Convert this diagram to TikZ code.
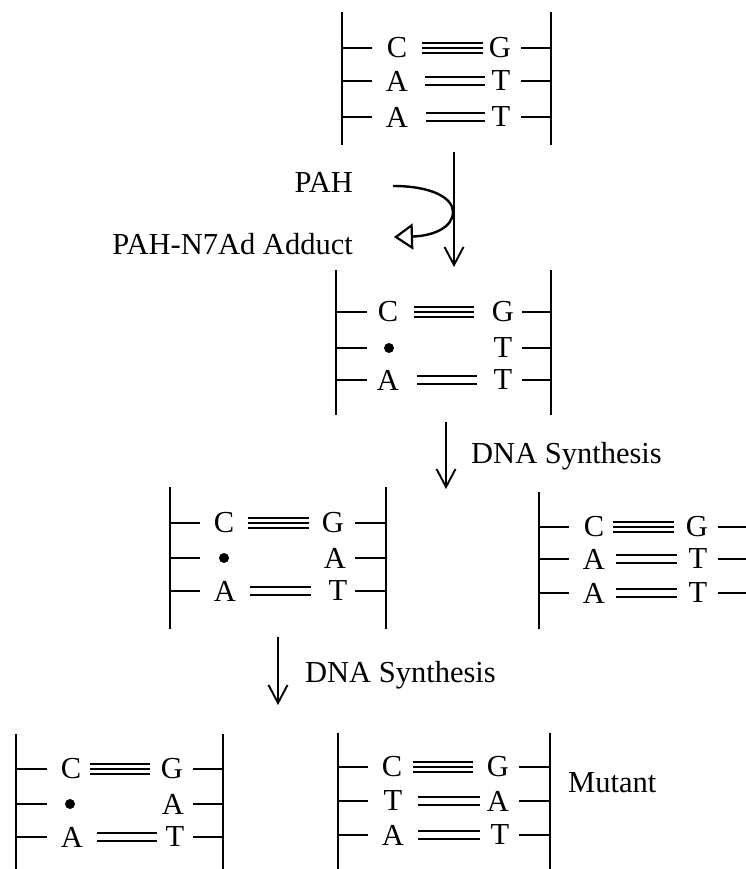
\documentclass[tikz,border=0pt]{standalone}
\usepackage{fontspec}
\setmainfont{Liberation Serif}
\usetikzlibrary{arrows.meta}
\newcommand\bkb[3]{\draw[bb] (#1,#2) -- (#1,#3);}
\newcommand\tkb[3]{\draw[tk] (#1,#3) -- (#2,#3);}
\newcommand\bthree[3]{\draw[bond] (#1,#3-5) -- (#2,#3-5) (#1,#3) -- (#2,#3) (#1,#3+5) -- (#2,#3+5);}
\newcommand\btwo[3]{\draw[bond] (#1,#3-4) -- (#2,#3-4) (#1,#3+4) -- (#2,#3+4);}
\begin{document}
\begin{tikzpicture}[x=1pt,y=-1pt,
  bb/.style={line width=2.2pt},
  tk/.style={line width=2pt},
  bond/.style={line width=1.9pt},
  base/.style={inner sep=0pt, font=\fontsize{30.5}{36}\selectfont},
  lbl/.style={inner sep=0pt, font=\fontsize{30.5}{36}\selectfont},
  flow/.style={line width=1.9pt, -{Straight Barb[length=18pt,width=19pt,line width=1.9pt]}},
  lesion/.style={fill, circle, inner sep=0pt, minimum size=10pt}
]
\useasboundingbox (0,0) rectangle (746,869);

% ---------- Block 1 ----------
\bkb{342}{12}{145} \bkb{551}{12}{145}
\tkb{342}{372}{48} \tkb{521}{551}{48}
\tkb{342}{372}{81} \tkb{521}{551}{81}
\tkb{342}{372}{117} \tkb{521}{551}{117}
\node[base] (b1c1) at (397,48) {C};  \node[base] (b1g1) at (500,48) {G};
\node[base] (b1a2) at (397,81) {A};  \node[base] (b1t2) at (501,81) {T};
\node[base] (b1a3) at (397,117) {A}; \node[base] (b1t3) at (501,117) {T};
\bthree{422}{483}{48}
\btwo{425}{485}{81}
\btwo{426}{485}{117}

% ---------- Block 2 ----------
\bkb{336}{270}{415} \bkb{551}{270}{415}
\tkb{336}{367}{312} \tkb{522}{551}{312}
\tkb{336}{367}{348} \tkb{522}{551}{348}
\tkb{336}{367}{380} \tkb{522}{551}{380}
\node[base] (b2c1) at (388,312) {C}; \node[base] (b2g1) at (503,312) {G};
\node[lesion] (b2d2) at (389,348) {}; \node[base] (b2t2) at (503,348) {T};
\node[base] (b2a3) at (388,380) {A}; \node[base] (b2t3) at (503,380) {T};
\bthree{414}{474}{312}
\btwo{417}{477}{380}

% ---------- Block 3 left ----------
\bkb{170}{487}{629} \bkb{386}{487}{629}
\tkb{170}{200}{523} \tkb{355}{386}{523}
\tkb{170}{200}{558} \tkb{355}{386}{558}
\tkb{170}{200}{591} \tkb{355}{386}{591}
\node[base] (b3c1) at (224,523) {C}; \node[base] (b3g1) at (333,523) {G};
\node[lesion] (b3d2) at (224,558) {}; \node[base] (b3a2) at (335,558) {A};
\node[base] (b3a3) at (225,591) {A}; \node[base] (b3t3) at (338,591) {T};
\bthree{248}{309}{523}
\btwo{250}{311}{591}

% ---------- Block 3 right ----------
\bkb{539}{492}{629}
\tkb{539}{569}{527} \tkb{718}{746}{527}
\tkb{539}{569}{559} \tkb{718}{746}{559}
\tkb{539}{569}{593} \tkb{718}{746}{593}
\node[base] (b4c1) at (594,527) {C}; \node[base] (b4g1) at (697,527) {G};
\node[base] (b4a2) at (594,559) {A}; \node[base] (b4t2) at (698,559) {T};
\node[base] (b4a3) at (594,593) {A}; \node[base] (b4t3) at (698,593) {T};
\bthree{613}{674}{527}
\btwo{616}{677}{559}
\btwo{616}{677}{593}

% ---------- Block 4 left ----------
\bkb{16}{734}{869} \bkb{223}{734}{869}
\tkb{16}{47}{769} \tkb{193}{223}{769}
\tkb{16}{47}{804} \tkb{193}{223}{804}
\tkb{16}{47}{837} \tkb{193}{223}{837}
\node[base] (b5c1) at (71,769) {C}; \node[base] (b5g1) at (172,769) {G};
\node[lesion] (b5d2) at (70,804) {}; \node[base] (b5a2) at (173,804) {A};
\node[base] (b5a3) at (72,837) {A}; \node[base] (b5t3) at (175,837) {T};
\bthree{90}{150}{769}
\btwo{97}{157}{837}

% ---------- Block 4 right ----------
\bkb{338}{733}{869} \bkb{550}{733}{869}
\tkb{338}{368}{767} \tkb{519}{550}{767}
\tkb{338}{368}{801} \tkb{519}{550}{801}
\tkb{338}{368}{835} \tkb{519}{550}{835}
\node[base] (b6c1) at (392,767) {C}; \node[base] (b6g1) at (498,767) {G};
\node[base] (b6t2) at (393,801) {T}; \node[base] (b6a2) at (498,801) {A};
\node[base] (b6a3) at (393,835) {A}; \node[base] (b6t3) at (500,835) {T};
\bthree{413}{473}{767}
\btwo{418}{480}{801}
\btwo{418}{480}{835}
\node[lbl, anchor=base west] (mut) at (568,792) {Mutant};

% ---------- Arrows and labels ----------
\coordinate (a1s) at (454,152); \coordinate (a1e) at (454,267);
\draw[flow] (a1s) -- (a1e);
\node[lbl, anchor=base east] (pah) at (353,193) {PAH};
\node[lbl, anchor=base east] (add) at (353,254) {PAH-N7Ad Adduct};
\coordinate (cs) at (393,186); \coordinate (ce) at (394,237);
\draw[line width=2.4pt, -{Triangle[open, length=19pt, width=26pt, line width=2.2pt]}]
  (cs) .. controls (432,186) and (453,198) .. (453,212)
       .. controls (453,228) and (432,236) .. (ce);

\coordinate (a2s) at (446,422); \coordinate (a2e) at (446,489);
\draw[flow] (a2s) -- (a2e);
\node[lbl, anchor=base west] (syn1) at (471,463) {DNA Synthesis};

\coordinate (a3s) at (278,637); \coordinate (a3e) at (278,705);
\draw[flow] (a3s) -- (a3e);
\node[lbl, anchor=base west] (syn2) at (305,682) {DNA Synthesis};
\end{tikzpicture}
\end{document}
